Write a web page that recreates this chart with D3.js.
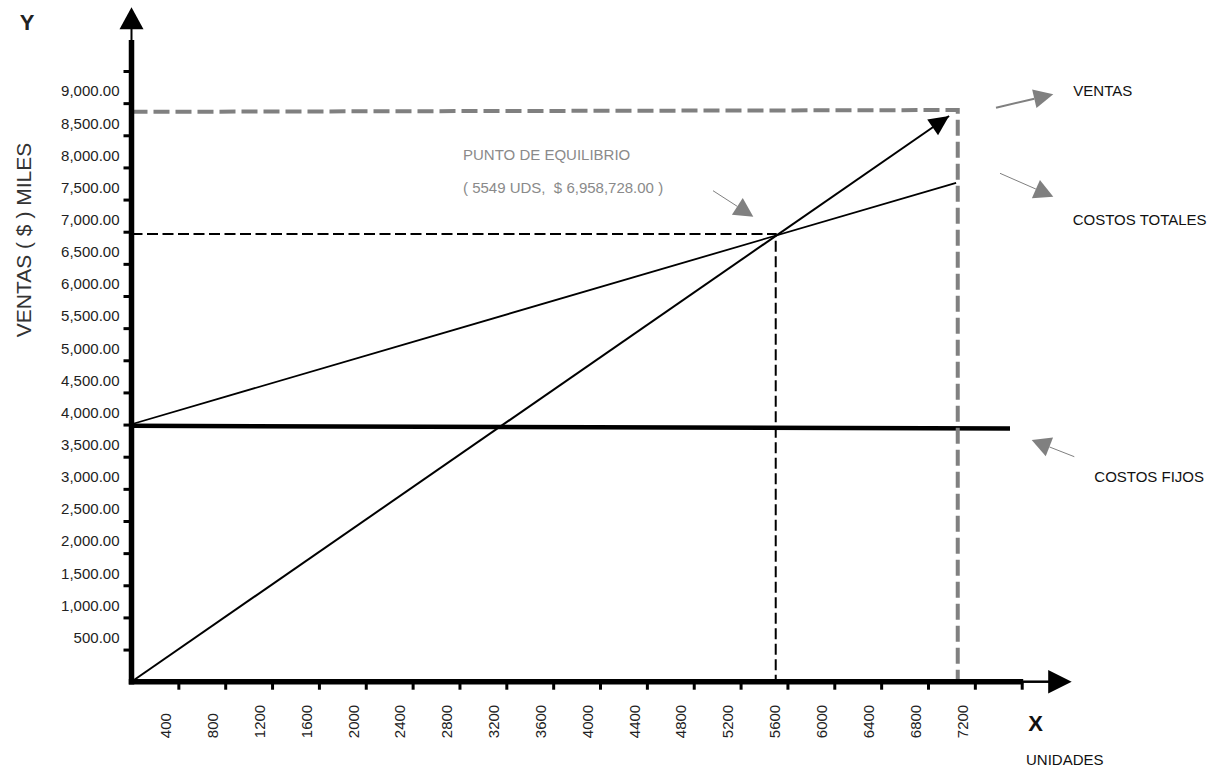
<!DOCTYPE html>
<html>
<head>
<meta charset="utf-8">
<script src="https://cdn.jsdelivr.net/npm/d3@7"></script>
<style>
  body { margin: 0; background: #fff; }
  svg text { font-family: Arial, "Liberation Sans", sans-serif; }
</style>
</head>
<body>
<svg id="chart" width="1218" height="772"></svg>
<script>
// ticks (units on x, thousands of $ on y)
const unitTicks = d3.range(400, 7601, 400);
const valueTicks = d3.range(500, 9501, 500);

// series: [units, value]
const ventas = [[0, 0], [6980, 8800]];
const costosTotales = [[0, 4005], [7040, 7760]];
const costosFijos = [[0, 3980], [7500, 3940]];

// guides
const equilibrio = [5500, 6965];
const ventasGuide = [[0, 8865], [7054, 8893], [7054, 0]];

const svg = d3.select('#chart');
svg.append('rect').attr('width', 1218).attr('height', 772).attr('fill', '#fff');

const x = d3.scaleLinear().domain([0, 7600]).range([131.5, 1021.7]);
const y = d3.scaleLinear().domain([0, 9500]).range([681.7, 71]);
const line = d3.line().x(d => x(d[0])).y(d => y(d[1]));

// little helper for the arrows
function arrow(g, x0, y0, x1, y1, color, lw, len, w) {
  const a = Math.atan2(y1 - y0, x1 - x0);
  const bx = x1 - len * Math.cos(a), by = y1 - len * Math.sin(a);
  const px = -Math.sin(a) * w / 2, py = Math.cos(a) * w / 2;
  if (lw > 0) {
    g.append('line')
      .attr('x1', x0).attr('y1', y0).attr('x2', bx).attr('y2', by)
      .attr('stroke', color).attr('stroke-width', lw);
  }
  g.append('path')
    .attr('d', `M${x1},${y1}L${bx + px},${by + py}L${bx - px},${by - py}Z`)
    .attr('fill', color);
}

// y axis ticks + labels
const yAxis = d3.axisLeft(y)
  .tickValues(valueTicks)
  .tickSize(8)
  .tickPadding(4)
  .tickFormat(d => d === 9500 ? '' : d3.format(',.2f')(d));
const gy = svg.append('g')
  .attr('transform', `translate(${x(0)},0)`)
  .attr('font-family', null)
  .call(yAxis);
gy.select('.domain').remove();
gy.selectAll('.tick line').attr('stroke', '#000').attr('stroke-width', 3);
gy.selectAll('.tick text')
  .attr('font-size', 15)
  .attr('fill', '#222')
  .attr('y', -12.5)
  .attr('dy', '0.35em');

// x axis ticks + labels
const xAxis = d3.axisBottom(x)
  .tickValues(unitTicks)
  .tickSize(8)
  .tickFormat(d => d === 7600 ? '' : d);
const gx = svg.append('g')
  .attr('transform', `translate(0,${y(0)})`)
  .attr('font-family', null)
  .call(xAxis);
gx.select('.domain').remove();
gx.selectAll('.tick line').attr('stroke', '#000').attr('stroke-width', 3);
gx.selectAll('.tick text')
  .attr('font-size', 15)
  .attr('fill', '#222')
  .attr('text-anchor', 'start')
  .attr('y', 0)
  .attr('dy', '0.35em')
  .attr('transform', 'translate(-13,56.5) rotate(-90)');

// series
svg.append('path').datum(costosFijos).attr('d', line)
  .attr('fill', 'none').attr('stroke', '#000').attr('stroke-width', 4.5);
svg.append('path').datum(costosTotales).attr('d', line)
  .attr('fill', 'none').attr('stroke', '#000').attr('stroke-width', 1.8);
svg.append('path').datum(ventas).attr('d', line)
  .attr('fill', 'none').attr('stroke', '#000').attr('stroke-width', 2);
const vEnd = ventas[ventas.length - 1];
arrow(svg, x(ventas[0][0]), y(ventas[0][1]), x(vEnd[0]), y(vEnd[1]), '#000', 0, 20, 19);

// break-even guides (black dashed)
svg.append('path')
  .datum([[0, equilibrio[1]], equilibrio, [equilibrio[0], 0]])
  .attr('d', line)
  .attr('fill', 'none').attr('stroke', '#000').attr('stroke-width', 2)
  .attr('stroke-dasharray', '11,4.5');

// sales guide (grey dashed)
svg.append('path').datum(ventasGuide).attr('d', line)
  .attr('fill', 'none').attr('stroke', '#808080').attr('stroke-width', 4)
  .attr('stroke-dasharray', '16,6');

// thick axes with arrows
const x0 = x(0), y0 = y(0);
svg.append('line').attr('x1', x0).attr('x2', x0).attr('y1', 40).attr('y2', y0 + 2.7)
  .attr('stroke', '#000').attr('stroke-width', 5.5);
svg.append('line').attr('x1', x0).attr('x2', x0).attr('y1', 42).attr('y2', 28)
  .attr('stroke', '#000').attr('stroke-width', 2);
arrow(svg, x0, 40, x0, 7.3, '#000', 0, 22, 24);

svg.append('line').attr('x1', x0 - 2.7).attr('x2', x(7600) + 1.5).attr('y1', y0).attr('y2', y0)
  .attr('stroke', '#000').attr('stroke-width', 5.5);
svg.append('line').attr('x1', x(7600)).attr('x2', 1050).attr('y1', y0).attr('y2', y0)
  .attr('stroke', '#000').attr('stroke-width', 2.5);
arrow(svg, 1020, y0, 1071.7, y0, '#000', 0, 23.5, 23.5);

// axis letters and titles
svg.append('text').attr('x', 27).attr('y', 22.5).attr('dy', '0.35em')
  .attr('text-anchor', 'middle').attr('font-size', 22).attr('font-weight', 'bold')
  .attr('fill', '#222').text('Y');
svg.append('text').attr('x', 1035.7).attr('y', 723).attr('dy', '0.35em')
  .attr('text-anchor', 'middle').attr('font-size', 22).attr('font-weight', 'bold')
  .attr('fill', '#111').text('X');
svg.append('text').attr('x', 1026).attr('y', 759.3).attr('dy', '0.35em')
  .attr('font-size', 15).attr('fill', '#111').text('UNIDADES');
svg.append('text')
  .attr('transform', 'translate(23.3,240) rotate(-90)')
  .attr('dy', '0.35em').attr('text-anchor', 'middle')
  .attr('font-size', 21).attr('fill', '#333')
  .text('VENTAS ( $ ) MILES');

// break-even note
svg.append('text').attr('x', 463).attr('y', 154.3).attr('dy', '0.35em')
  .attr('font-size', 15).attr('fill', '#8a8a8a').text('PUNTO DE EQUILIBRIO');
svg.append('text').attr('x', 463).attr('y', 187.3).attr('dy', '0.35em')
  .attr('font-size', 15).attr('fill', '#8a8a8a').style('white-space', 'pre')
  .text('( 5549 UDS,  $ 6,958,728.00 )');
arrow(svg, 713, 190.7, 753.3, 216.7, '#808080', 1, 19, 20);

// legend-ish callouts on the right
arrow(svg, 996, 107.7, 1053.3, 94.3, '#808080', 2, 19.5, 19);
svg.append('text').attr('x', 1073.3).attr('y', 90.7).attr('dy', '0.35em')
  .attr('font-size', 15).attr('fill', '#111').text('VENTAS');

arrow(svg, 1000, 173.3, 1053.3, 196.7, '#808080', 1, 19, 20);
svg.append('text').attr('x', 1072.7).attr('y', 220).attr('dy', '0.35em')
  .attr('font-size', 15).attr('fill', '#111').text('COSTOS TOTALES');

arrow(svg, 1074.3, 456.7, 1031.7, 440, '#808080', 1, 19, 20);
svg.append('text').attr('x', 1094.3).attr('y', 476.7).attr('dy', '0.35em')
  .attr('font-size', 15).attr('fill', '#111').text('COSTOS FIJOS');
</script>
</body>
</html>
